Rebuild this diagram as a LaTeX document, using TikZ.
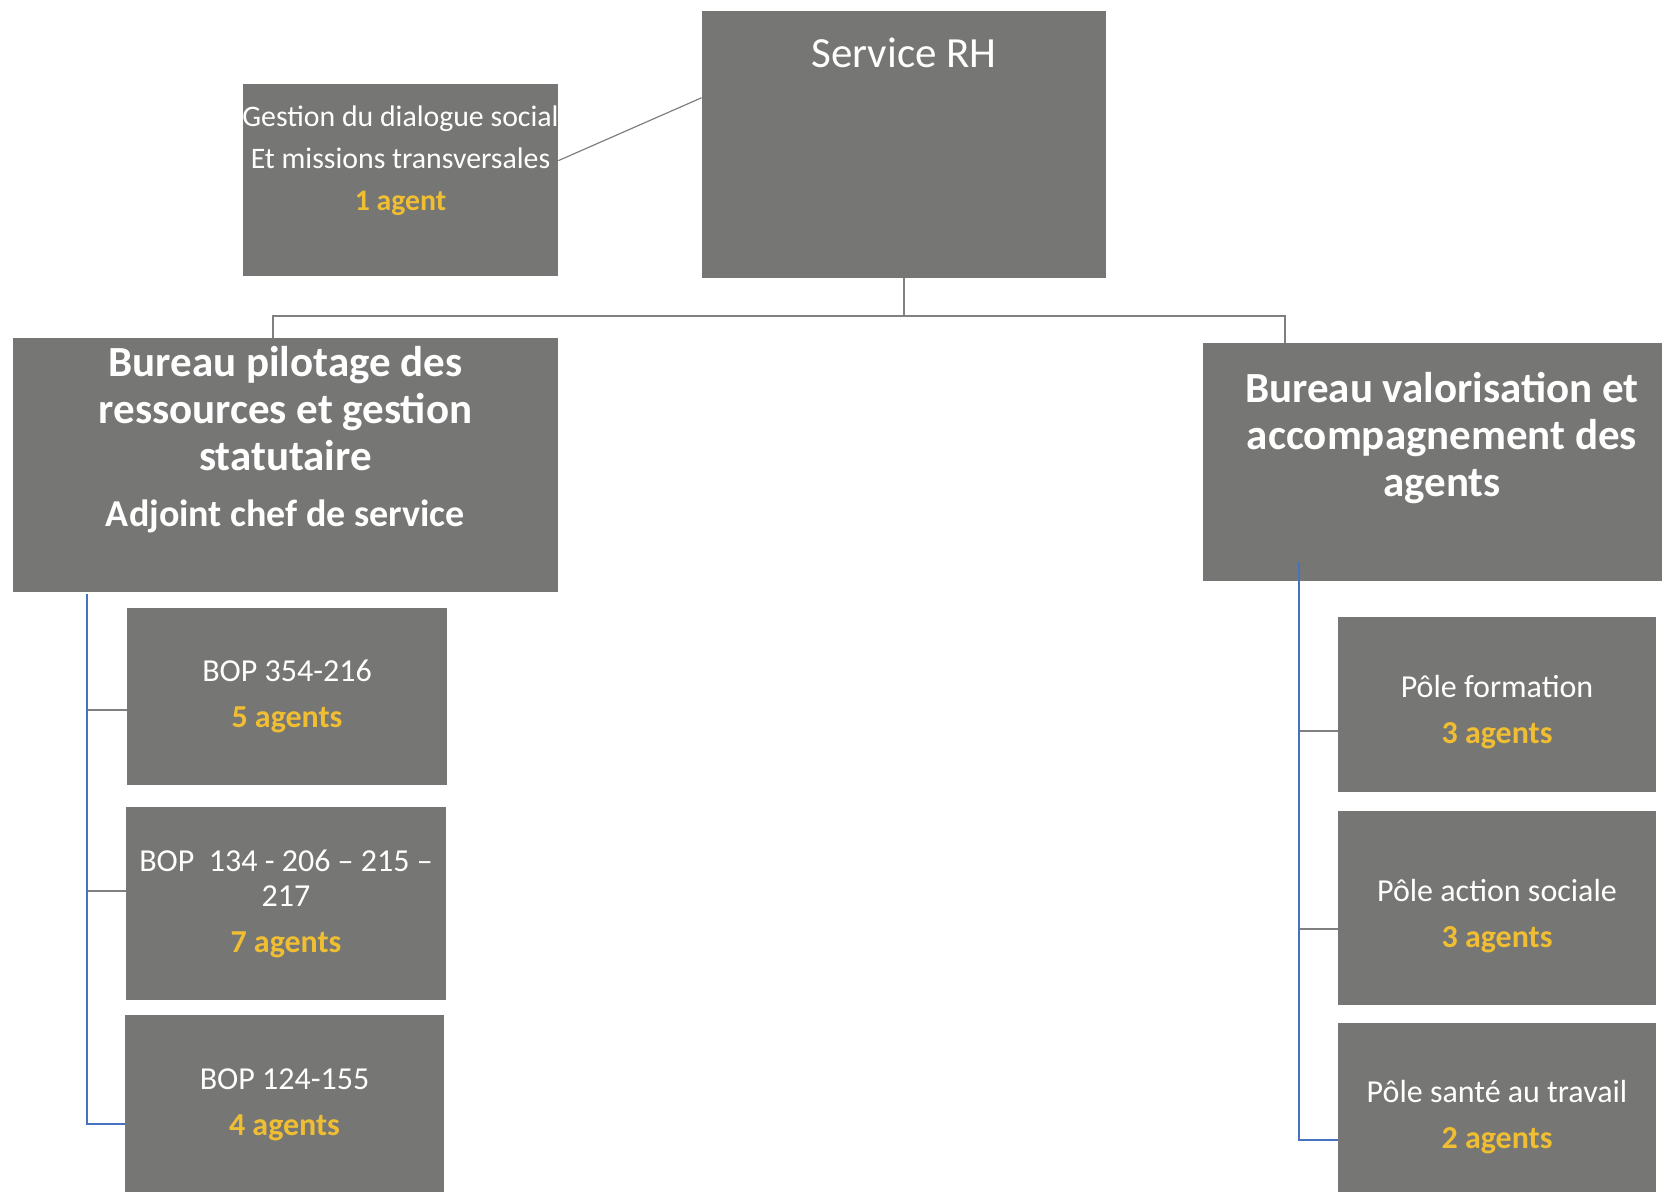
\documentclass[tikz,border=0pt]{standalone}
\usepackage{fontspec}
\setmainfont{Carlito}

\definecolor{boxgray}{RGB}{118,118,116}
\definecolor{agentgold}{RGB}{240,190,50}
\definecolor{spineblue}{RGB}{70,114,190}
\definecolor{linkgray}{RGB}{128,128,128}

\newcommand{\agents}[1]{{\bfseries\color{agentgold}#1}}

\begin{document}
\begin{tikzpicture}[x=0.5pt,y=-0.5pt,
  unit/.style={fill=boxgray,inner sep=0pt,text=white,align=center},
  txt/.style={text=white,align=center,inner sep=0pt},
  pole/.style={unit,font=\fontsize{16}{17.5}\selectfont},
  head/.style={txt,font=\bfseries\fontsize{21.5}{23.3}\selectfont},
  link/.style={draw=linkgray,line width=0.6pt},
  spine/.style={draw=spineblue,line width=1.1pt}]

\path[use as bounding box,fill=white] (0,0) rectangle (1662,1192);

% top of the chart
\node[unit,minimum width=202pt,minimum height=133.5pt,
  label={[txt,font=\fontsize{21.5}{26}\selectfont,yshift=45.75pt]center:Service RH}]
  (rh) at (904,144.5) {};
\node[unit,minimum width=157.5pt,minimum height=96pt,
  label={[txt,font=\fontsize{14.9}{21}\selectfont,yshift=9.5pt]center:Gestion du dialogue social\\Et missions transversales\\\agents{1 agent}}]
  (gestion) at (400.5,180) {};

% the two bureaux
\node[unit,minimum width=272.5pt,minimum height=127pt,
  label={[head,yshift=12.5pt]center:Bureau pilotage des\\ressources et gestion\\statutaire\\[5pt]{\fontsize{19}{23}\selectfont Adjoint chef de service}}]
  (pilot) at (285.5,465) {};
\node[unit,minimum width=239pt,minimum height=119pt,
  label={[head,yshift=12pt]center:Bureau valorisation et\\accompagnement des\\agents}]
  (valor) at (1442,462) {};

% left column
\node[pole,minimum width=160pt,minimum height=88.5pt] (bop1) at (287,696.5)
  {BOP 354-216\\[5.5pt]\agents{5 agents}};
\node[pole,minimum width=160pt,minimum height=96.5pt] (bop2) at (286,903.5)
  {BOP\ \ 134 - 206 – 215 –\\217\\[5.5pt]\agents{7 agents}};
\node[pole,minimum width=159.5pt,minimum height=90pt] (bop3) at (284.5,1105)
  {BOP 124-155\\[5.5pt]\agents{4 agents}};

% right column
\node[pole,minimum width=159pt,minimum height=87.5pt] (pole1) at (1497,704.5)
  {\rule{0pt}{19pt}Pôle formation\\[5.5pt]\agents{3 agents}};
\node[pole,minimum width=159pt,minimum height=97pt] (pole2) at (1497,908)
  {\rule{0pt}{19pt}Pôle action sociale\\[5.5pt]\agents{3 agents}};
\node[pole,minimum width=159pt,minimum height=86pt] (pole3) at (1497,1109)
  {\rule{0pt}{19pt}Pôle santé au travail\\[5.5pt]\agents{2 agents}};

% links
\coordinate (busL) at (273,316);
\coordinate (busR) at (1285,316);
\draw[link] (gestion.7.6) -- (rh.167.6);
\draw[link] (rh.south) -- (rh.south |- busL);
\draw[link] (pilot.north -| busL) -- (busL) -- (busR) -- (valor.north -| busR);

\coordinate (lTop) at (87,594);
\coordinate (lt1) at (87,710);
\coordinate (lt2) at (87,891);
\coordinate (lt3) at (87,1124);
\draw[link] (lt1) -- (lt1 -| bop1.west);
\draw[link] (lt2) -- (lt2 -| bop2.west);
\draw[spine] (lTop) -- (lt3) -- (lt3 -| bop3.west);

\coordinate (rTop) at (1299,562);
\coordinate (rt1) at (1299,731);
\coordinate (rt2) at (1299,929);
\coordinate (rt3) at (1299,1140);
\draw[link] (rt1) -- (rt1 -| pole1.west);
\draw[link] (rt2) -- (rt2 -| pole2.west);
\draw[spine] (rTop) -- (rt3) -- (rt3 -| pole3.west);

\end{tikzpicture}
\end{document}
